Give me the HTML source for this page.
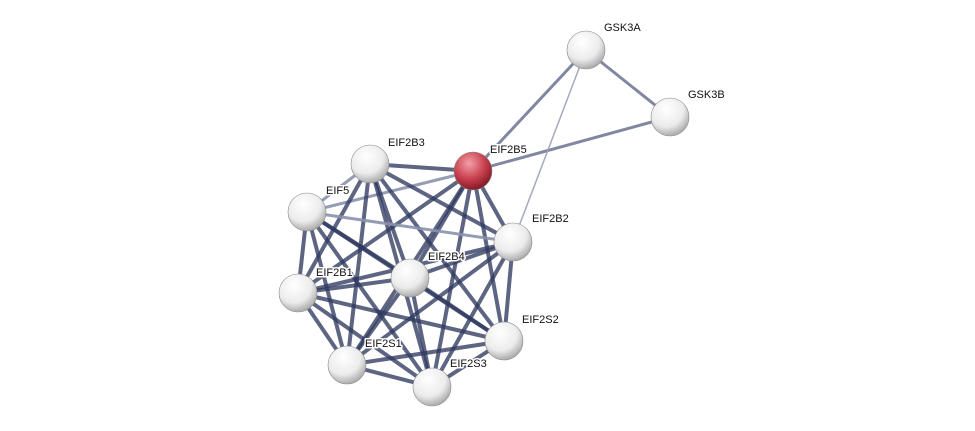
<!DOCTYPE html>
<html><head><meta charset="utf-8"><style>
html,body{margin:0;padding:0;background:#fff;width:975px;height:431px;overflow:hidden}
text{font-family:"Liberation Sans",sans-serif;font-size:11px;fill:#111;stroke:#fff;stroke-width:3px;paint-order:stroke;stroke-linejoin:round}
</style></head><body>
<svg id="s" width="975" height="431" xmlns="http://www.w3.org/2000/svg">
<defs>
<radialGradient id="g" cx="40%" cy="30%" r="75%">
<stop offset="0" stop-color="#ffffff"/><stop offset="0.6" stop-color="#ececec"/><stop offset="1" stop-color="#a0a0a0"/>
</radialGradient>
<radialGradient id="r" cx="40%" cy="30%" r="75%">
<stop offset="0" stop-color="#f3a0a8"/><stop offset="0.55" stop-color="#c8404e"/><stop offset="1" stop-color="#7a1420"/>
</radialGradient>
</defs>
<g id="edges"></g>
<g id="nodes"></g>
</svg>
<script>
var N={GSK3A:[586,50,604,31],GSK3B:[670,117,688,98],EIF2B5:[473,171,490,153],EIF2B3:[370,164,388,146],EIF5:[307,212,326,194],EIF2B2:[513,242,532,222],EIF2B4:[410,278,428,260],EIF2B1:[298,293,316,276],EIF2S2:[504,341,522,323],EIF2S1:[347,365,365,347],EIF2S3:[432,387,450,367]};
var ns="http://www.w3.org/2000/svg",E=document.getElementById('edges'),G=document.getElementById('nodes');
function L(a,b,w,c,o){var l=document.createElementNS(ns,'line');l.setAttribute('x1',N[a][0]);l.setAttribute('y1',N[a][1]);l.setAttribute('x2',N[b][0]);l.setAttribute('y2',N[b][1]);l.setAttribute('stroke',c);l.setAttribute('stroke-width',w);l.setAttribute('stroke-opacity',o);E.appendChild(l);}
var C=['EIF2B5','EIF2B3','EIF5','EIF2B2','EIF2B4','EIF2B1','EIF2S2','EIF2S1','EIF2S3'];
var light={'EIF2B5-EIF5':1,'EIF5-EIF2B2':1,'EIF2B3-EIF5':1};
for(var i=0;i<C.length;i++)for(var j=i+1;j<C.length;j++){var k=C[i]+'-'+C[j];if(light[k])L(C[i],C[j],3,'#8a92ad',0.9);else L(C[i],C[j],4,'#2f3a60',0.78);}
L('GSK3A','GSK3B',3,'#6a7290',0.85);L('GSK3A','EIF2B5',3,'#6a7290',0.85);L('GSK3B','EIF2B5',3,'#6a7290',0.85);L('GSK3A','EIF2B2',1.5,'#9aa0b8',0.9);
for(var n in N){var c=document.createElementNS(ns,'circle');c.setAttribute('cx',N[n][0]);c.setAttribute('cy',N[n][1]);c.setAttribute('r',19);c.setAttribute('fill',n=='EIF2B5'?'url(#r)':'url(#g)');c.setAttribute('stroke','#888');c.setAttribute('stroke-width','0.6');G.appendChild(c);}
for(var n in N){var t=document.createElementNS(ns,'text');t.setAttribute('x',N[n][2]);t.setAttribute('y',N[n][3]);t.textContent=n;G.appendChild(t);}
</script>
</body></html>
